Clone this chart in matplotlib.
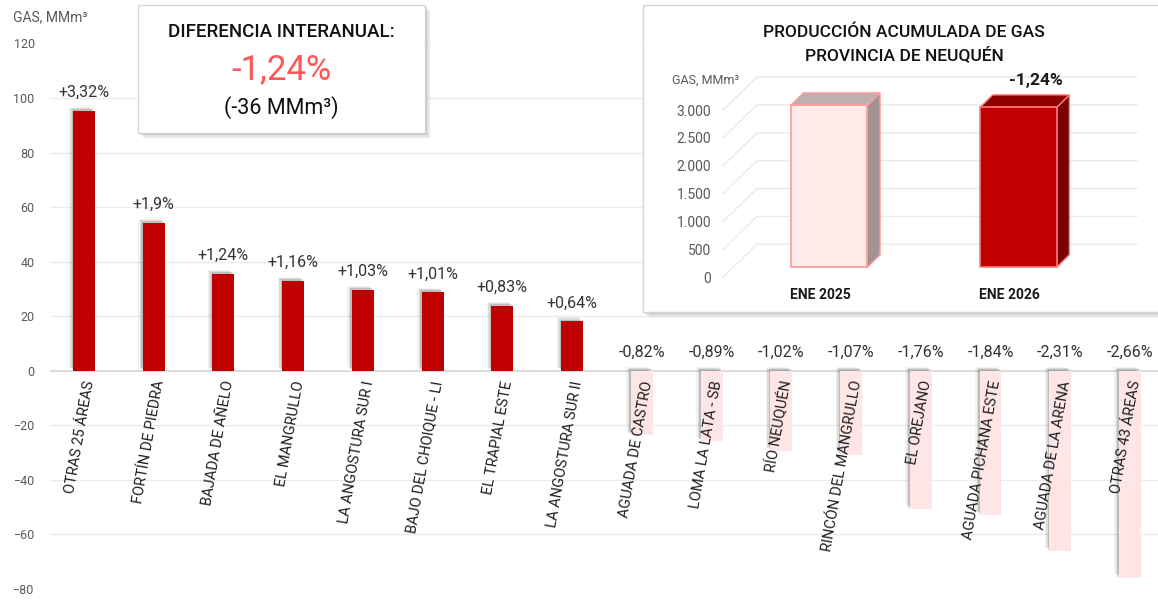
import matplotlib
matplotlib.use('Agg')
import matplotlib.pyplot as plt
from matplotlib.patches import Rectangle, Polygon
from matplotlib.transforms import ScaledTranslation

plt.rcParams['font.family'] = ['Roboto', 'DejaVu Sans']

# ---------------- data ----------------
categories = ["OTRAS 25 ÁREAS", "FORTÍN DE PIEDRA", "BAJADA DE AÑELO", "EL MANGRULLO",
              "LA ANGOSTURA SUR I", "BAJO DEL CHOIQUE - LI", "EL TRAPIAL ESTE",
              "LA ANGOSTURA SUR II", "AGUADA DE CASTRO", "LOMA LA LATA - SB",
              "RÍO NEUQUÉN", "RINCÓN DEL MANGRULLO", "EL OREJANO",
              "AGUADA PICHANA ESTE", "AGUADA DE LA ARENA", "OTRAS 43 ÁREAS"]
diff_mmm3 = [95.3, 54.3, 35.6, 33.0, 29.7, 28.9, 23.9, 18.2,
             -23.5, -25.6, -29.3, -31.0, -50.7, -52.8, -66.2, -76.1]
pct_labels = ["+3,32%", "+1,9%", "+1,24%", "+1,16%", "+1,03%", "+1,01%", "+0,83%", "+0,64%",
              "-0,82%", "-0,89%", "-1,02%", "-1,07%", "-1,76%", "-1,84%", "-2,31%", "-2,66%"]
main_yticks = [-80, -60, -40, -20, 0, 20, 40, 60, 80, 100, 120]

inset_periods = ["ENE 2025", "ENE 2026"]
inset_values = [2903, 2867]
inset_yticks = [0, 500, 1000, 1500, 2000, 2500, 3000]
inset_ytick_labels = ["0", "500", "1.000", "1.500", "2.000", "2.500", "3.000"]
summary_title = "DIFERENCIA INTERANUAL:"
summary_pct = "-1,24%"
summary_abs = "(-36 MMm³)"
unit_label = "GAS, MMm³"
inset_title = ["PRODUCCIÓN ACUMULADA DE GAS", "PROVINCIA DE NEUQUÉN"]

# ---------------- figure ----------------
W, H = 1158, 601
fig = plt.figure(figsize=(W / 100, H / 100), dpi=100)
fig.patch.set_facecolor('white')


def fx(px):
    return px / W


def fy(py):
    return 1 - py / H


def shift(ax, dx, dy):
    return ax.transData + ScaledTranslation(dx / 100, dy / 100, fig.dpi_scale_trans)


# ---------------- main chart ----------------
ax = fig.add_axes([fx(50), fy(589), (W - 50) / W, 545.5 / H])
ax.set_zorder(0)
ax.patch.set_visible(False)
x = list(range(len(categories)))
bw = 0.315
colors = ['#C00000' if v > 0 else '#FFE6E6' for v in diff_mmm3]

for dx, dy, a in [(-1.5, 1.5, 0.22), (-3, 3, 0.15), (-4.5, 4, 0.07)]:
    sh = ax.bar(x, diff_mmm3, width=bw, color='#5a5a5a', alpha=a, zorder=2, linewidth=0)
    for p in sh:
        p.set_transform(shift(ax, dx, dy))
ax.bar(x, diff_mmm3, width=bw, color=colors, zorder=3, linewidth=0)

ax.set_ylim(-80, 120)
ax.set_xlim(-0.4876, 15.402)
ax.set_yticks(main_yticks)
ax.set_xticks([])
ax.grid(axis='y', color='#ECECEC', lw=1)
ax.set_axisbelow(True)
ax.axhline(0, color='#D8D8D8', lw=1.2, zorder=1)
for s in ax.spines.values():
    s.set_visible(False)
ax.tick_params(axis='y', length=0, pad=11, labelsize=9, labelcolor='#595959')

for i, (v, lab) in enumerate(zip(diff_mmm3, pct_labels)):
    ax.annotate(lab, (i, max(v, 0)), xytext=(0, 13), textcoords='offset points',
                ha='center', va='center', fontsize=11.5, color='#333333', zorder=6)

for i, c in enumerate(categories):
    ax.text(i, 0, c, rotation=80, rotation_mode='anchor', ha='right', va='center',
            transform=shift(ax, 6, -10), fontsize=10.5, color='#1e1e1e', zorder=6)

fig.text(fx(13), fy(17), unit_label, ha='left', va='center', fontsize=10, color='#595959')


# ---------------- boxes ----------------
def box(x0, y0, x1, y1, z):
    for off, a in [(2, 0.25), (4, 0.15), (6, 0.07)]:
        fig.add_artist(Rectangle((fx(x0 + off), fy(y1 + off)), (x1 - x0) / W, (y1 - y0) / H,
                                 transform=fig.transFigure, facecolor='#777777', alpha=a,
                                 edgecolor='none', zorder=z - 0.1))
    fig.add_artist(Rectangle((fx(x0), fy(y1)), (x1 - x0) / W, (y1 - y0) / H,
                             transform=fig.transFigure, facecolor='white',
                             edgecolor='#D5D5D5', lw=1, zorder=z))


box(138, 5, 425, 133, 2)
fig.text(fx(281), fy(32), summary_title, ha='center', va='center', fontsize=13.5,
         fontweight='medium', color='#111111', zorder=3)
fig.text(fx(281), fy(70), summary_pct, ha='center', va='center', fontsize=25,
         color='#FF5757', zorder=3)
fig.text(fx(281), fy(108), summary_abs, ha='center', va='center', fontsize=15.5,
         color='#111111', zorder=3)

box(643, 5, 1164, 312, 2)
fig.text(fx(904), fy(32), inset_title[0], ha='center', va='center', fontsize=12.5,
         fontweight='medium', color='#111111', zorder=3)
fig.text(fx(904), fy(55), inset_title[1], ha='center', va='center', fontsize=12.5,
         fontweight='medium', color='#111111', zorder=3)
fig.text(fx(706), fy(80), unit_label, ha='center', va='center', fontsize=9,
         color='#595959', zorder=3)

# ---------------- inset chart ----------------
xl0, xl1 = -0.56, 1.627
px_per_x = 189.3
px_per_y = 167.3 / 3000

ax2 = fig.add_axes([fx(723), fy(277.3), (1137 - 723) / W, 167.3 / H])
ax2.set_zorder(4)
ax2.patch.set_visible(False)
ax2.set_xlim(xl0, xl1)
ax2.set_ylim(0, 3000)
for s in ax2.spines.values():
    s.set_visible(False)
slant_dx = 34 / px_per_x
slant_dy = 33 / px_per_y
for v in inset_yticks:
    ax2.plot([xl0, xl0 + slant_dx, xl1], [v, v + slant_dy, v + slant_dy],
             color='#EAEAEA', lw=1, clip_on=False, zorder=0)
ax2.set_yticks(inset_yticks, inset_ytick_labels)
label_shift = 9 / px_per_x
ax2.set_xticks([i - label_shift for i in range(len(inset_periods))], inset_periods)
ax2.tick_params(length=0)
ax2.tick_params(axis='y', pad=8.5, labelsize=10, labelcolor='#595959')
ax2.tick_params(axis='x', pad=8, labelsize=10, labelcolor='#1a1a1a')
for t in ax2.get_xticklabels():
    t.set_fontweight('bold')

ax3 = fig.add_axes([fx(723), fy(267.3), (1137 - 723) / W, 167.3 / H])
ax3.set_zorder(5)
ax3.patch.set_visible(False)
ax3.set_xlim(xl0, xl1)
ax3.set_ylim(0, 3000)
ax3.axis('off')

ibw = 76.6 / px_per_x
front = ['#FFEAEA', '#C00000']
tops = ['#BFB0B0', '#8E0000']
sides = ['#A29292', '#780000']
edges = ['#FF9A9A', '#FF7A7A']
d_x = 12.7 / px_per_x
d_y = 12.5 / px_per_y
ix = list(range(len(inset_values)))
ax3.bar(ix, inset_values, width=ibw, color=front, edgecolor=edges, lw=1.2, zorder=3,
        clip_on=False)
for i, v in enumerate(inset_values):
    a0, a1 = i - ibw / 2, i + ibw / 2
    ax3.add_patch(Polygon([(a1, 0), (a1 + d_x, d_y), (a1 + d_x, v + d_y), (a1, v)],
                          closed=True, facecolor=sides[i], edgecolor=edges[i], lw=1,
                          zorder=2, clip_on=False))
    ax3.add_patch(Polygon([(a0, v), (a1, v), (a1 + d_x, v + d_y), (a0 + d_x, v + d_y)],
                          closed=True, facecolor=tops[i], edgecolor=edges[i], lw=1,
                          zorder=2, clip_on=False))

ax3.annotate(summary_pct, (1, inset_values[1]), xytext=(13, 19.5), textcoords='offset points',
             ha='center', va='center', fontsize=12.5, fontweight='bold', color='#1a1a1a')

fig.savefig('out.png', dpi=100, facecolor='white')
